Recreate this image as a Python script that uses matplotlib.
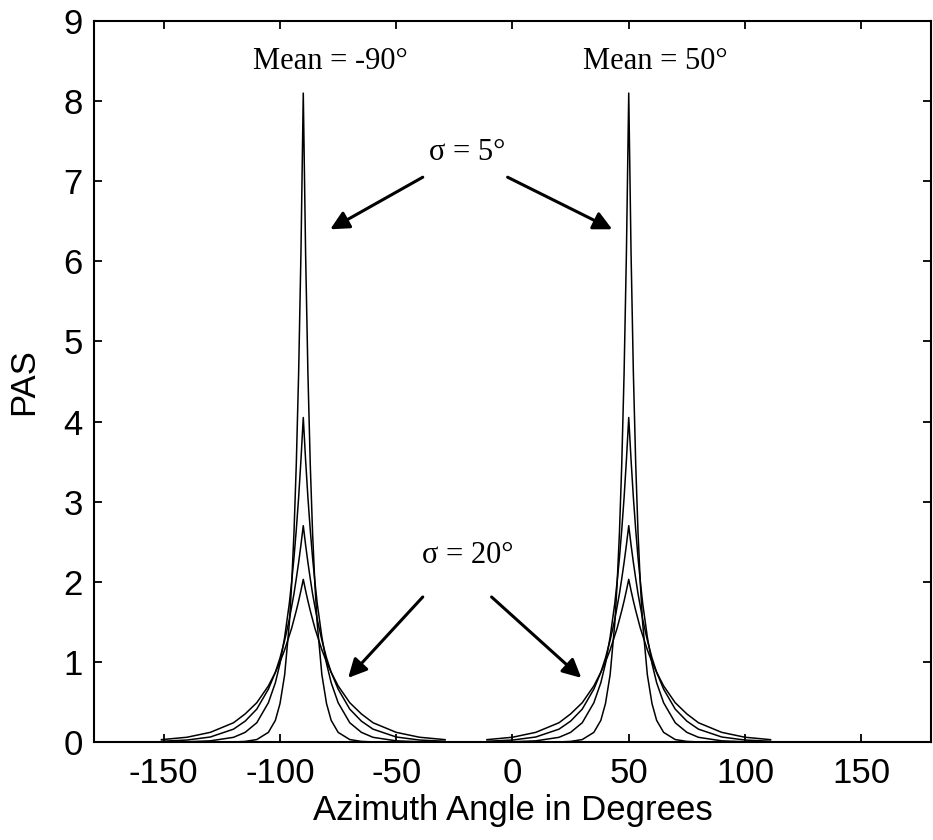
import matplotlib
matplotlib.use("Agg")
import matplotlib.pyplot as plt
import numpy as np

plt.rcParams["font.family"] = ["Liberation Sans", "DejaVu Sans"]
plt.rcParams["axes.unicode_minus"] = False

# angular spread values and mean azimuths (degrees)
means = [-90, 50]
sigmas = [5, 10, 15, 20]

# offsets from the mean (degrees), one side; curves are symmetric
offsets = [0, 1, 2, 3, 4, 5, 6, 8, 10, 12, 15, 20, 25, 30, 40, 50, 61]

# PAS values, one list per sigma
pas_s5 = [8.10, 6.10, 4.60, 3.47, 2.61, 1.97, 1.48, 0.84, 0.48, 0.27, 0.12, 0.03, 0.007, 0.0, 0.0, 0.0, 0.0]
pas_s10 = [4.05, 3.52, 3.05, 2.65, 2.30, 2.00, 1.73, 1.31, 0.98, 0.74, 0.49, 0.24, 0.12, 0.058, 0.014, 0.003, 0.001]
pas_s15 = [2.70, 2.46, 2.24, 2.04, 1.85, 1.69, 1.53, 1.27, 1.05, 0.87, 0.66, 0.41, 0.26, 0.16, 0.062, 0.024, 0.009]
pas_s20 = [2.03, 1.89, 1.76, 1.64, 1.53, 1.42, 1.33, 1.15, 1.00, 0.87, 0.70, 0.49, 0.35, 0.24, 0.12, 0.059, 0.029]
pas_all = [pas_s5, pas_s10, pas_s15, pas_s20]

xticks = [-150, -100, -50, 0, 50, 100, 150]
yticks = list(range(10))

fig = plt.figure(figsize=(9.33, 8.4), dpi=100)
ax = fig.add_axes([0.1008, 0.1167, 0.897, 0.8583])

off = np.array(offsets, dtype=float)
for mu in means:
    for vals in pas_all:
        v = np.array(vals)
        x = np.concatenate([mu - off[::-1], mu + off[1:]])
        y = np.concatenate([v[::-1], v[1:]])
        ax.plot(x, y, color="black", lw=1.1)

ax.set_xlim(-180, 180)
ax.set_ylim(0, 9)
ax.set_xticks(xticks)
ax.set_yticks(yticks)
ax.tick_params(direction="in", length=6, width=1.3, top=True, right=True, labelsize=25)
ax.tick_params(axis="x", pad=11)
ax.tick_params(axis="y", pad=8)
for s in ax.spines.values():
    s.set_linewidth(1.5)

ax.set_xlabel("Azimuth Angle in Degrees", fontsize=25, labelpad=3)
ax.set_ylabel("PAS", fontsize=25, labelpad=17)

serif = ["Liberation Serif", "DejaVu Serif"]
ax.text(-78.4, 8.40, "Mean = -90°", family=serif, fontsize=22, ha="center", va="baseline")
ax.text(61.3, 8.40, "Mean = 50°", family=serif, fontsize=22, ha="center", va="baseline")

arrow = dict(arrowstyle="-|>", color="black", lw=2.2, mutation_scale=28, shrinkA=0, shrinkB=0)
ax.text(-19.3, 7.36, "σ = 5°", family=serif, fontsize=22, ha="center", va="center")
ax.annotate("", xy=(-78.4, 6.40), xytext=(-38.6, 7.05), arrowprops=arrow)
ax.annotate("", xy=(42.9, 6.40), xytext=(-2.1, 7.05), arrowprops=arrow)

ax.text(-19.3, 2.33, "σ = 20°", family=serif, fontsize=22, ha="center", va="center")
ax.annotate("", xy=(-70.7, 0.80), xytext=(-38.6, 1.81), arrowprops=arrow)
ax.annotate("", xy=(29.6, 0.80), xytext=(-9.0, 1.81), arrowprops=arrow)

fig.savefig("out.png", dpi=100)
